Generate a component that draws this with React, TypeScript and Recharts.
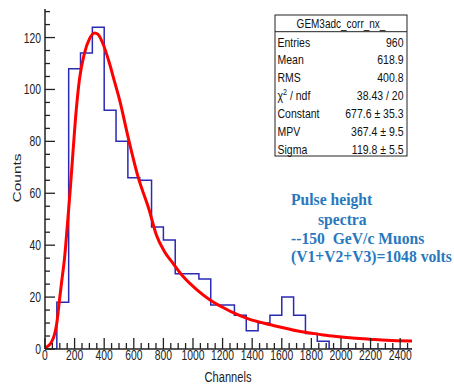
import React from 'react';
import { ComposedChart, Line, XAxis, YAxis } from 'recharts';

// Histogram: 31 bins of 80 channels from 0 to 2480
const binEdges = [
  0, 80, 160, 240, 320, 400, 480, 560, 640, 720, 800, 880, 960, 1040, 1120, 1200,
  1280, 1360, 1440, 1520, 1600, 1680, 1760, 1840, 1920, 2000, 2080, 2160, 2240, 2320, 2400, 2480,
];
const binCounts = [
  0, 18, 108, 114, 124, 92, 80, 66, 65, 47, 42, 29, 29, 27, 17, 17,
  13, 7, 10, 13, 20, 13, 6, 3, 0, 0, 0, 0, 0, 0, 0,
];

// Landau fit curve
const fitX = [
  0, 20, 40, 64, 80, 98, 115, 132, 150, 170, 188, 211, 233, 267, 301, 335, 357, 391, 436, 470,
  504, 560, 628, 707, 752, 808, 865, 932, 1023, 1113, 1203, 1294, 1384, 1474, 1587, 1700, 1790,
  1880, 1970, 2060, 2196, 2309, 2480,
];
const fitY = [
  0.5, 1.1, 2.3, 5.5, 10, 19, 27, 35, 47, 61, 75, 92, 104, 114, 119.6, 121.8, 121.3, 117.7, 110, 103,
  96, 82, 66.5, 53, 44, 37.5, 33, 28, 23, 19, 16, 13.4, 11.4, 10, 8.5, 7.0, 6.2,
  5.4, 4.8, 4.3, 3.8, 3.4, 3.1,
];

const xMajorTicks = [0, 200, 400, 600, 800, 1000, 1200, 1400, 1600, 1800, 2000, 2200, 2400];
const yMajorTicks = [0, 20, 40, 60, 80, 100, 120];
const xTicks = Array.from({ length: 50 }, (_, i) => i * 50);
const yTicks = Array.from({ length: 27 }, (_, i) => i * 5);

const statsTitle = 'GEM3adc_corr_nx_';
const statsLabels = ['Entries', 'Mean', 'RMS', 'CHI', 'Constant', 'MPV', 'Sigma'];
const statsValues = ['960', '618.9', '400.8', '38.43 / 20', '677.6 \u00b1 35.3', '367.4 \u00b1 9.5', '119.8 \u00b1 5.5'];

const noteLines = ['Pulse height', 'spectra', '--150  GeV/c Muons', '(V1+V2+V3)=1048 volts'];

const histData = binEdges.map((x, i) => ({ x, y: i < binCounts.length ? binCounts[i] : 0 }));
const fitData = fitX.map((x, i) => ({ x, y: fitY[i] }));

const FONT = '"Liberation Sans", Arial, Helvetica, sans-serif';
const SX = 0.74;

const XTick = (props: any) => {
  const { x, y, payload } = props;
  const v = payload.value as number;
  const major = v % 200 === 0;
  return (
    <g>
      <line x1={x} x2={x} y1={y} y2={y - (major ? 11 : 6)} stroke="#222" strokeWidth={1.3} />
      {major && (
        <text
          transform={`translate(${x},${y + 11}) scale(${SX},1)`}
          textAnchor="middle"
          fontSize={14}
          fill="#222"
          fontFamily={FONT}
        >
          {v}
        </text>
      )}
    </g>
  );
};

const YTick = (props: any) => {
  const { x, y, payload } = props;
  const v = payload.value as number;
  const major = v % 20 === 0;
  return (
    <g>
      <line x1={x} x2={x + (major ? 10 : 5)} y1={y} y2={y} stroke="#222" strokeWidth={1.3} />
      {major && (
        <text
          transform={`translate(${x - 4},${y + 5}) scale(${SX},1)`}
          textAnchor="end"
          fontSize={14}
          fill="#222"
          fontFamily={FONT}
        >
          {v}
        </text>
      )}
    </g>
  );
};

const Overlay = () => {
  const boxX = 275;
  const boxY = 15;
  const boxW = 132;
  const boxH = 141;
  return (
    <svg
      width={454}
      height={387}
      style={{ position: 'absolute', left: 0, top: 0, pointerEvents: 'none' }}
    >
      {/* axis titles */}
      <text
        transform={`translate(21,178) scale(${SX},1) rotate(-90)`}
        textAnchor="middle"
        fontSize={15.5}
        fill="#222"
        fontFamily={FONT}
      >
        Counts
      </text>
      <text
        transform={`translate(228,382) scale(${SX},1)`}
        textAnchor="middle"
        fontSize={15}
        fill="#222"
        fontFamily={FONT}
      >
        Channels
      </text>

      {/* stats box */}
      <rect x={boxX} y={boxY} width={boxW} height={boxH} fill="#fff" stroke="#222" strokeWidth={1} />
      <line x1={boxX} x2={boxX + boxW} y1={31.7} y2={31.7} stroke="#222" strokeWidth={1} />
      <text
        transform={`translate(${boxX + boxW / 2},27.5) scale(0.8,1)`}
        textAnchor="middle"
        fontSize={12.5}
        fill="#111"
        fontFamily={FONT}
      >
        {statsTitle}
      </text>
      {statsLabels.map((lab, i) => {
        const by = 46.5 + i * 17.9;
        return (
          <g key={lab}>
            <text
              transform={`translate(277.5,${by}) scale(0.84,1)`}
              fontSize={12.5}
              fill="#111"
              fontFamily={FONT}
            >
              {lab === 'CHI' ? (
                <>
                  <tspan>{'\u03c7'}</tspan>
                  <tspan fontSize={8.5} dy={-5}>2</tspan>
                  <tspan dy={5}>{' / ndf'}</tspan>
                </>
              ) : (
                lab
              )}
            </text>
            <text
              transform={`translate(403.5,${by}) scale(0.84,1)`}
              textAnchor="end"
              fontSize={12.5}
              fill="#111"
              fontFamily={FONT}
            >
              {statsValues[i]}
            </text>
          </g>
        );
      })}

      {/* annotation */}
      {noteLines.map((t, i) => (
        <text
          key={i}
          transform={`translate(${i === 1 ? 318 : 291},${[205, 225, 243.5, 262][i]}) scale(0.92,1)`}
          fontSize={17}
          fontWeight="bold"
          fill="#2878be"
          fontFamily='"Liberation Serif", "Times New Roman", serif'
          style={{ whiteSpace: 'pre' }}
        >
          {t}
        </text>
      ))}
    </svg>
  );
};

export default function App() {
  return (
    <div style={{ position: 'absolute', left: 0, top: 0, width: 454, height: 387, background: '#fff' }}>
      <ComposedChart width={454} height={387} margin={{ top: 9, right: 42, bottom: 0, left: 0 }}>
        <XAxis
          xAxisId="main"
          dataKey="x"
          type="number"
          domain={[0, 2480]}
          allowDataOverflow
          ticks={xTicks}
          interval={0}
          tick={<XTick />}
          tickSize={0}
          tickMargin={0}
          tickLine={false}
          axisLine={{ stroke: '#222', strokeWidth: 1.5 }}
          height={38}
        />
        <XAxis
          xAxisId="top"
          orientation="top"
          type="number"
          domain={[0, 2480]}
          tick={false}
          tickLine={false}
          axisLine={{ stroke: '#555', strokeWidth: 2 }}
          height={0}
        />
        <YAxis
          yAxisId="main"
          type="number"
          domain={[0, 131]}
          allowDataOverflow
          ticks={yTicks}
          interval={0}
          tick={<YTick />}
          tickSize={0}
          tickMargin={0}
          tickLine={false}
          axisLine={{ stroke: '#222', strokeWidth: 1.5 }}
          width={45}
        />
        <YAxis
          yAxisId="right"
          orientation="right"
          type="number"
          domain={[0, 131]}
          tick={false}
          tickLine={false}
          axisLine={{ stroke: '#888', strokeWidth: 2 }}
          width={0}
        />
        <Line
          xAxisId="main"
          yAxisId="main"
          data={histData}
          dataKey="y"
          type="stepAfter"
          stroke="#2a2ab4"
          strokeWidth={1.5}
          dot={false}
          isAnimationActive={false}
        />
        <Line
          xAxisId="main"
          yAxisId="main"
          data={fitData}
          dataKey="y"
          type="monotone"
          stroke="#ff0000"
          strokeWidth={3}
          dot={false}
          isAnimationActive={false}
        />
      </ComposedChart>
      <Overlay />
    </div>
  );
}
